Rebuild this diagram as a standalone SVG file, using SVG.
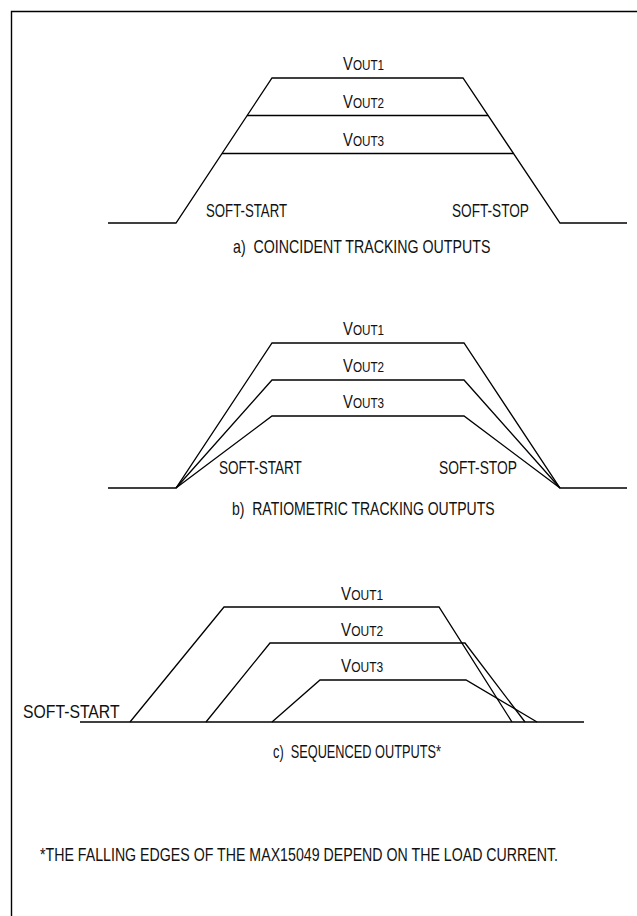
<svg xmlns="http://www.w3.org/2000/svg" width="637" height="916" viewBox="0 0 637 916">
<style>
.frame{stroke:#000;stroke-width:1.4;fill:none}
.w{stroke:#000;stroke-width:1.3;fill:none;stroke-linejoin:miter}
text{font-family:"Liberation Sans",Arial,sans-serif;font-size:18px;fill:#111;white-space:pre}
.v{font-size:19px}
.sub{font-size:15px}
</style>
<rect width="637" height="916" fill="#fff"/>
<g id="frame"><path class="frame" d="M11.5,916 V11.5 H637"/></g>

<g id="connectors">
  <!-- panel a -->
  <polyline class="w" points="108,223 176,223 272,78 463,78 560,223 627,223"/>
  <line class="w" x1="247" y1="115.5" x2="488" y2="115.5"/>
  <line class="w" x1="222" y1="153.5" x2="513.5" y2="153.5"/>
  <!-- panel b -->
  <polyline class="w" points="108,488 176,488 272,343 464,343 560,488 627,488"/>
  <polyline class="w" points="176,488 272,380 464,380 560,488"/>
  <polyline class="w" points="176,488 272,416 464,416 560,488"/>
  <!-- panel c -->
  <line class="w" x1="80" y1="722" x2="584" y2="722"/>
  <polyline class="w" points="130,722 224,607 439,607 512,722"/>
  <polyline class="w" points="206,722 270,643 465,643 525,722"/>
  <polyline class="w" points="272,722 320,680 466,680 537,722"/>
</g>

<g id="panel-a">
  <text class="v" transform="translate(343,70) scale(0.78,1)">V<tspan class="sub">OUT1</tspan></text>
  <text class="v" transform="translate(343,107.5) scale(0.78,1)">V<tspan class="sub">OUT2</tspan></text>
  <text class="v" transform="translate(343,145.5) scale(0.78,1)">V<tspan class="sub">OUT3</tspan></text>
  <text transform="translate(206,217) scale(0.735,1)">SOFT-START</text>
  <text transform="translate(452,217) scale(0.757,1)">SOFT-STOP</text>
  <text transform="translate(233,253) scale(0.789,1)">a)  COINCIDENT TRACKING OUTPUTS</text>
</g>

<g id="panel-b">
  <text class="v" transform="translate(343,335) scale(0.78,1)">V<tspan class="sub">OUT1</tspan></text>
  <text class="v" transform="translate(343,372) scale(0.78,1)">V<tspan class="sub">OUT2</tspan></text>
  <text class="v" transform="translate(343,408) scale(0.78,1)">V<tspan class="sub">OUT3</tspan></text>
  <text transform="translate(219,474) scale(0.752,1)">SOFT-START</text>
  <text transform="translate(439,474) scale(0.767,1)">SOFT-STOP</text>
  <text transform="translate(232,515) scale(0.779,1)">b)  RATIOMETRIC TRACKING OUTPUTS</text>
</g>

<g id="panel-c">
  <text class="v" transform="translate(341,600) scale(0.8,1)">V<tspan class="sub">OUT1</tspan></text>
  <text class="v" transform="translate(341,636) scale(0.8,1)">V<tspan class="sub">OUT2</tspan></text>
  <text class="v" transform="translate(341,672) scale(0.8,1)">V<tspan class="sub">OUT3</tspan></text>
  <text transform="translate(23,718) scale(0.876,1)">SOFT-START</text>
  <text transform="translate(273,758) scale(0.709,1)">c)  SEQUENCED OUTPUTS*</text>
</g>

<g id="footnote">
  <text transform="translate(40,861) scale(0.788,1)">*THE FALLING EDGES OF THE MAX15049 DEPEND ON THE LOAD CURRENT.</text>
</g>
</svg>
